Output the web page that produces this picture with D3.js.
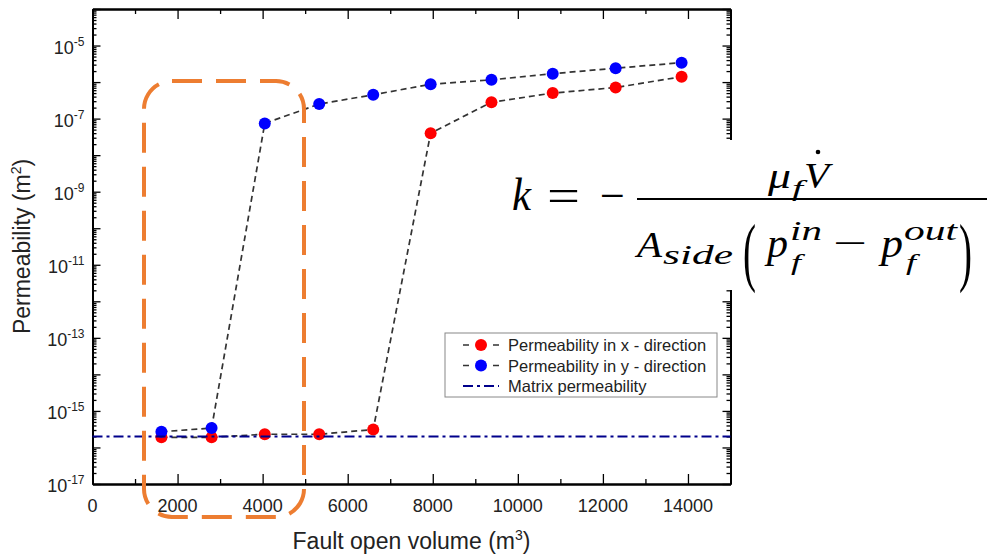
<!DOCTYPE html>
<html>
<head>
<meta charset="utf-8">
<script src="https://cdn.jsdelivr.net/npm/d3@7"></script>
<style>
  body { margin: 0; background: #fff; }
  text { font-family: "Liberation Sans", Arial, sans-serif; }
  .axis path, .axis line { stroke: #000; }
  .eq text { font-family: "Liberation Serif", "DejaVu Serif", serif; fill: #000; }
</style>
</head>
<body>
<div id="chart"></div>
<script>
// fault open volume (m3)
var volumes = [1620, 2800, 4050, 5330, 6600, 7950, 9380, 10820, 12300, 13850];
// permeability in x and y direction (m2)
var permX = [1.9e-16, 1.9e-16, 2.3e-16, 2.3e-16, 3.1e-16, 4.0e-8, 2.8e-7, 5.0e-7, 7.1e-7, 1.4e-6];
var permY = [2.7e-16, 3.4e-16, 7.4e-8, 2.5e-7, 4.5e-7, 8.7e-7, 1.15e-6, 1.7e-6, 2.4e-6, 3.4e-6];
var matrixPerm = 2.0e-16;
var xTicks = [0, 2000, 4000, 6000, 8000, 10000, 12000, 14000];
var yLabelExps = [-17, -15, -13, -11, -9, -7, -5];
var legendLabels = ["Permeability in x - direction", "Permeability in y - direction", "Matrix permeability"];

var svgWidth = 987;
var svgHeight = 556;
var margin = { top: 9, left: 92.5 };
var width = 638;
var height = 475;

var svg = d3.select("#chart").append("svg")
  .attr("width", svgWidth)
  .attr("height", svgHeight);

var chartGroup = svg.append("g")
  .attr("transform", `translate(${margin.left}, ${margin.top})`);

var x = d3.scaleLinear().domain([0, 15000]).range([0, width]);
var y = d3.scaleLog().domain([1e-17, 1e-4]).range([height, 0]);

// tick values
var decades = d3.range(-17, -3).map(e => Math.pow(10, e));
var minors = [];
d3.range(-17, -4).forEach(function(e) {
  for (var m = 2; m <= 9; m++) minors.push(m * Math.pow(10, e));
});
var xMinor = d3.range(1000, 15000, 2000);

function axisStyle(g) {
  g.attr("class", "axis");
  g.select(".domain").attr("stroke-width", 2);
  g.selectAll(".tick line").attr("stroke-width", 1.3);
  g.selectAll(".tick text").remove();
}

// bottom
chartGroup.append("g").attr("transform", `translate(0, ${height})`)
  .call(d3.axisBottom(x).tickValues(xTicks).tickSize(-10).tickSizeOuter(0)).call(axisStyle);
chartGroup.append("g").attr("transform", `translate(0, ${height})`)
  .call(d3.axisBottom(x).tickValues(xMinor).tickSize(-5).tickSizeOuter(0)).call(axisStyle);
// top
chartGroup.append("g")
  .call(d3.axisTop(x).tickValues(xTicks).tickSize(-10).tickSizeOuter(0)).call(axisStyle);
chartGroup.append("g")
  .call(d3.axisTop(x).tickValues(xMinor).tickSize(-5).tickSizeOuter(0)).call(axisStyle);
// left
chartGroup.append("g")
  .call(d3.axisLeft(y).tickValues(decades).tickSize(-8).tickSizeOuter(0)).call(axisStyle);
chartGroup.append("g")
  .call(d3.axisLeft(y).tickValues(minors).tickSize(-4).tickSizeOuter(0)).call(axisStyle);
// right
chartGroup.append("g").attr("transform", `translate(${width}, 0)`)
  .call(d3.axisRight(y).tickValues(decades).tickSize(-8).tickSizeOuter(0)).call(axisStyle);
chartGroup.append("g").attr("transform", `translate(${width}, 0)`)
  .call(d3.axisRight(y).tickValues(minors).tickSize(-4).tickSizeOuter(0)).call(axisStyle);

// x tick labels
chartGroup.selectAll(".xlab")
  .data(xTicks)
  .enter()
  .append("text")
  .attr("x", d => x(d))
  .attr("y", height + 28)
  .attr("text-anchor", "middle")
  .attr("font-size", "18px")
  .attr("fill", "#222")
  .text(d => d);

// y tick labels with superscript
var ylab = chartGroup.selectAll(".ylab")
  .data(yLabelExps)
  .enter()
  .append("text")
  .attr("x", -8)
  .attr("y", d => y(Math.pow(10, d)) + 8)
  .attr("text-anchor", "end")
  .attr("font-size", "18px")
  .attr("fill", "#222");
ylab.append("tspan").text("10");
ylab.append("tspan").attr("dy", -8).attr("font-size", "12px").text(d => d);

// axis titles
var xt = svg.append("text")
  .attr("x", margin.left + width / 2)
  .attr("y", 549)
  .attr("text-anchor", "middle")
  .attr("font-size", "23px")
  .attr("fill", "#222");
xt.append("tspan").text("Fault open volume (m");
xt.append("tspan").attr("dy", -9).attr("font-size", "14px").text("3");
xt.append("tspan").attr("dy", 9).text(")");

var yt = svg.append("text")
  .attr("transform", `translate(30, ${margin.top + height / 2}) rotate(-90)`)
  .attr("text-anchor", "middle")
  .attr("font-size", "23px")
  .attr("fill", "#222");
yt.append("tspan").text("Permeability (m");
yt.append("tspan").attr("dy", -9).attr("font-size", "14px").text("2");
yt.append("tspan").attr("dy", 9).text(")");

// lines
var line = d3.line()
  .x(d => x(d[0]))
  .y(d => y(d[1]));

var seriesX = volumes.map((v, i) => [v, permX[i]]);
var seriesY = volumes.map((v, i) => [v, permY[i]]);

[seriesX, seriesY].forEach(function(s) {
  chartGroup.append("path")
    .datum(s)
    .attr("d", line)
    .attr("fill", "none")
    .attr("stroke", "#333")
    .attr("stroke-width", 1.7)
    .attr("stroke-dasharray", "6,4");
});

chartGroup.selectAll(".ptx")
  .data(seriesX)
  .enter()
  .append("circle")
  .attr("cx", d => x(d[0]))
  .attr("cy", d => y(d[1]))
  .attr("r", 6)
  .attr("fill", "#ff0000");

chartGroup.selectAll(".pty")
  .data(seriesY)
  .enter()
  .append("circle")
  .attr("cx", d => x(d[0]))
  .attr("cy", d => y(d[1]))
  .attr("r", 6)
  .attr("fill", "#0000ff");

// matrix permeability
chartGroup.append("line")
  .attr("x1", 0)
  .attr("x2", width)
  .attr("y1", y(matrixPerm))
  .attr("y2", y(matrixPerm))
  .attr("stroke", "#00008b")
  .attr("stroke-width", 2)
  .attr("stroke-dasharray", "10,4,3,4");

// legend
var legend = svg.append("g").attr("transform", "translate(445, 333)");
legend.append("rect")
  .attr("width", 272)
  .attr("height", 64)
  .attr("fill", "#fff")
  .attr("stroke", "#888")
  .attr("stroke-width", 1);

var legendRows = legend.selectAll(".lrow")
  .data(legendLabels)
  .enter()
  .append("g")
  .attr("transform", (d, i) => `translate(0, ${12 + i * 20.5})`);

legendRows.append("line")
  .attr("x1", 18).attr("x2", 54)
  .attr("stroke", (d, i) => i < 2 ? "#333" : "#00008b")
  .attr("stroke-width", (d, i) => i < 2 ? 1.7 : 2)
  .attr("stroke-dasharray", (d, i) => i < 2 ? "6,24,6" : "10,4,3,4");

legendRows.filter((d, i) => i < 2)
  .append("circle")
  .attr("cx", 36)
  .attr("r", 6)
  .attr("fill", (d, i) => i === 0 ? "#ff0000" : "#0000ff");

legendRows.append("text")
  .attr("x", 63)
  .attr("y", 6)
  .attr("font-size", "16.5px")
  .attr("fill", "#222")
  .text(d => d);

// orange highlight box
svg.append("rect")
  .attr("x", 144)
  .attr("y", 81)
  .attr("width", 160)
  .attr("height", 436)
  .attr("rx", 28)
  .attr("fill", "none")
  .attr("stroke", "#ed7d31")
  .attr("stroke-width", 4)
  .attr("stroke-dasharray", "30,14");

// formula: each piece fitted to its width with textLength
var eq = svg.append("g").attr("class", "eq");
eq.append("rect").attr("x", 498).attr("y", 140).attr("width", 489).attr("height", 150).attr("fill", "#fff");

function piece(str, x0, x1, baseline, size, italic) {
  eq.append("text")
    .attr("x", x0)
    .attr("y", baseline)
    .attr("font-size", size + "px")
    .attr("font-style", italic ? "italic" : "normal")
    .attr("textLength", x1 - x0)
    .attr("lengthAdjust", "spacingAndGlyphs")
    .text(str);
}

piece("k", 512, 531, 210, 46, true);
piece("=", 547, 580, 211, 46, false);
piece("\u2212", 600, 625, 211, 46, false);
eq.append("line").attr("x1", 637).attr("x2", 987).attr("y1", 199).attr("y2", 199)
  .attr("stroke", "#000").attr("stroke-width", 2);

// numerator
piece("\u03bc", 768, 791, 188, 36, true);
piece("f", 792, 803, 196, 24, true);
piece("V", 804, 829, 188, 36, true);
eq.append("circle").attr("cx", 818).attr("cy", 152).attr("r", 2.3).attr("fill", "#000");

// denominator
piece("A", 637, 662, 257, 36, true);
piece("side", 663, 733, 264, 27, true);
piece("(", 743, 756, 277, 76, false);
piece("p", 767, 788, 257, 40, true);
piece("in", 790, 822, 240, 27, true);
piece("f", 791, 801, 270, 23, true);
piece("\u2212", 833, 867, 256, 38, false);
piece("p", 881, 903, 257, 40, true);
piece("out", 904, 957, 240, 27, true);
piece("f", 906, 916, 270, 23, true);
piece(")", 959, 972, 277, 76, false);
</script>
</body>
</html>
